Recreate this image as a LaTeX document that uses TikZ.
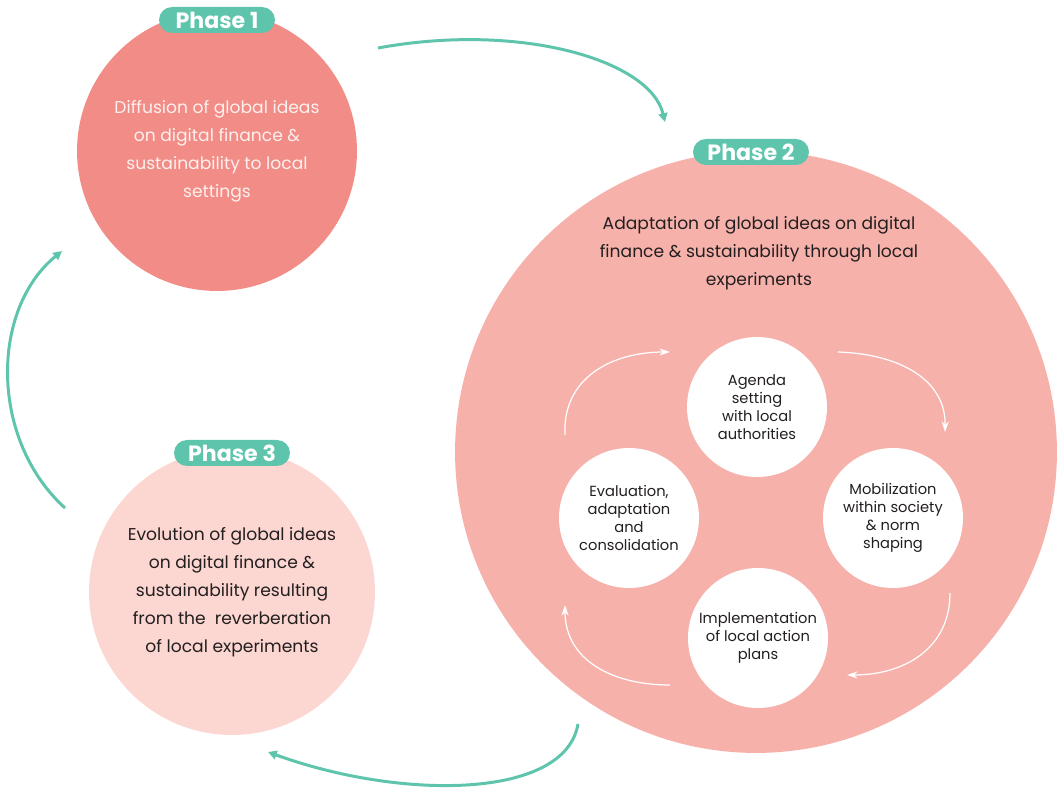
\documentclass[tikz,border=0pt]{standalone}
\usepackage{fontspec}
\setmainfont{Poppins}
\usepackage{xcolor}
\usetikzlibrary{arrows.meta,positioning,calc}
\definecolor{phaseone}{HTML}{F28C87}
\definecolor{phasetwo}{HTML}{F7B1AB}
\definecolor{phasethree}{HTML}{FCD6D1}
\definecolor{teal}{HTML}{5EC4AC}
\definecolor{ink}{HTML}{231F20}
\definecolor{paletext}{HTML}{FDF0EE}
\tikzset{
  phase/.style={circle, inner sep=0pt, align=center, font=\fontsize{9.75}{15.9}\selectfont},
  stage/.style={circle, fill=white, inner sep=0pt, minimum size=2.8cm, align=center, text=ink, font=\fontsize{8.35}{10.2}\selectfont},
  badge/.style={fill=teal, text=white, rounded corners=0.26cm, minimum width=2.32cm, minimum height=0.52cm, inner sep=0pt, font=\fontsize{12.6}{14}\selectfont\bfseries},
  cycle/.style={-{Triangle[length=5pt,width=5pt]}, teal, line width=1.7pt},
  loop/.style={-{Stealth[length=6pt,width=4pt]}, white, line width=0.7pt}
}
\begin{document}
\begin{tikzpicture}[x=0.02cm, y=-0.02cm]
\useasboundingbox (0,0) rectangle (1063,790);
% the three phases
\node[phase, fill=phaseone, minimum size=5.6cm, text=paletext] (p1) at (217,151) {Diffusion of global ideas\\on digital finance \&\\sustainability to local\\settings};
\node[phase, fill=phasetwo, minimum size=12.04cm] (p2) at (756,452) {};
\node[phase, fill=phasethree, minimum size=5.72cm, text=ink] (p3) at (232,592) {Evolution of global ideas\\on digital finance \&\\sustainability resulting\\from the\ \ reverberation\\of local experiments};
\node[phase, text=ink] (p2text) at (759,253) {Adaptation of global ideas on digital\\finance \& sustainability through local\\experiments};
\node[badge] (b1) at (217,20) {Phase 1};
\node[badge] (b2) at (751,152) {Phase 2};
\node[badge] (b3) at (232,453) {Phase 3};
% inner steps
\node[stage] (agenda) at (757,407) {Agenda\\setting\\with local\\authorities};
\node[stage] (mobil) at (893,518) {Mobilization\\within society\\\& norm\\shaping};
\node[stage] (impl) at (758,638) {Implementation\\of local action\\plans};
\node[stage] (eval) at (629,518) {Evaluation,\\adaptation\\and\\consolidation};
% arrow ends
\coordinate (a1) at (378,48);
\coordinate (a2) at (665,122);
\coordinate (c1) at (578,724);
\coordinate (c2) at (268,752);
\coordinate (d1) at (65,508);
\coordinate (d2) at (62,251);
\draw[cycle] (a1) .. controls (520,22) and (650,60) .. (a2);
\draw[cycle] (c1) .. controls (565,800) and (400,800) .. (c2);
\draw[cycle] (d1) .. controls (-10,440) and (-10,310) .. (d2);
\coordinate (e1) at (565,435);
\coordinate (e2) at (670,352);
\coordinate (f1) at (838,352);
\coordinate (f2) at (945,432);
\coordinate (g1) at (950,593);
\coordinate (g2) at (847,675);
\coordinate (h1) at (670,685);
\coordinate (h2) at (565,605);
\draw[loop] (e1) .. controls (562,378) and (612,352) .. (e2);
\draw[loop] (f1) .. controls (900,354) and (946,380) .. (f2);
\draw[loop] (g1) .. controls (950,648) and (905,675) .. (g2);
\draw[loop] (h1) .. controls (612,685) and (565,660) .. (h2);
\end{tikzpicture}
\end{document}
